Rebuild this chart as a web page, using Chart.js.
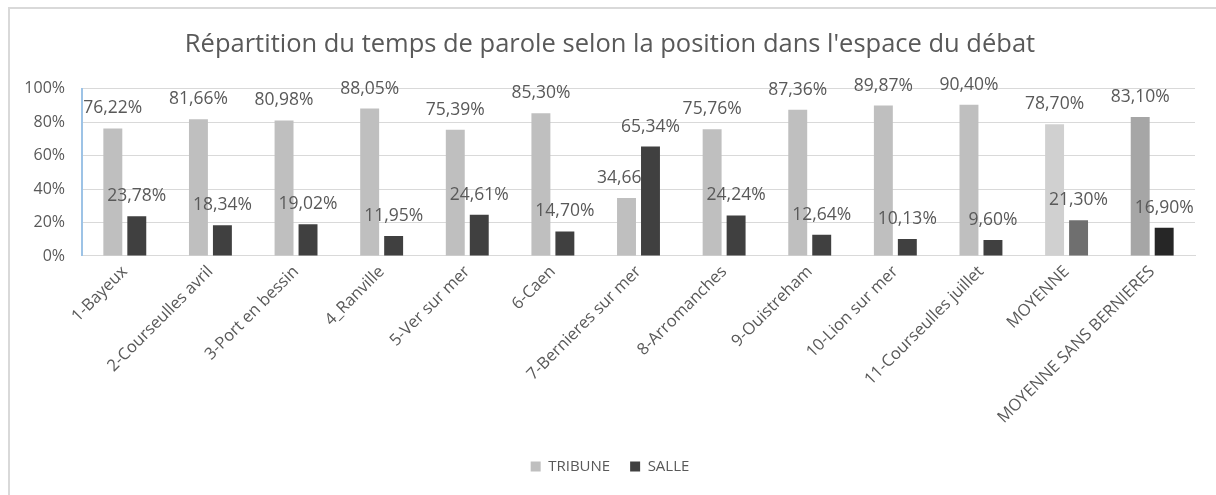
<!DOCTYPE html>
<html>
<head>
<meta charset="utf-8">
<script src="https://cdn.jsdelivr.net/npm/chart.js@4"></script>
<style>
  body { margin: 0; background: #fff; }
  #wrap { position: relative; width: 1216px; height: 495px; overflow: hidden; }
  #frame { position: absolute; left: 8px; top: 7px; width: 1230px; height: 510px; border: 2px solid #d9d9d9; }
  canvas { position: absolute; left: 0; top: 0; }
</style>
</head>
<body>
<div id="wrap">
  <div id="frame"></div>
  <canvas id="chart" width="1216" height="495"></canvas>
</div>
<script>
const categories = ['1-Bayeux', '2-Courseulles avril', '3-Port en bessin', '4_Ranville', '5-Ver sur mer', '6-Caen',
  '7-Bernieres sur mer', '8-Arromanches', '9-Ouistreham', '10-Lion sur mer', '11-Courseulles juillet',
  'MOYENNE', 'MOYENNE SANS BERNIERES'];
const tribune = [76.22, 81.66, 80.98, 88.05, 75.39, 85.30, 34.66, 75.76, 87.36, 89.87, 90.40, 78.70, 83.10];
const salle = [23.78, 18.34, 19.02, 11.95, 24.61, 14.70, 65.34, 24.24, 12.64, 10.13, 9.60, 21.30, 16.90];
const yTicks = [0, 20, 40, 60, 80, 100];

const tribuneColors = categories.map((c, i) => i === 11 ? '#d0d0d0' : i === 12 ? '#a6a6a6' : '#bfbfbf');
const salleColors = categories.map((c, i) => i === 11 ? '#6f6f6f' : i === 12 ? '#262626' : '#404040');

const textColor = '#595959';
const font = '"Open Sans", "DejaVu Sans", sans-serif';

function fmt(v) {
  return v.toFixed(2).replace('.', ',') + '%';
}

// value labels; TRIBUNE labels sit under the SALLE bars (the 34,66 one loses its %)
const valueLabels = {
  id: 'valueLabels',
  afterDatasetsDraw(chart) {
    const ctx = chart.ctx;
    const salleBars = chart.getDatasetMeta(1).data;
    ctx.save();
    ctx.font = '17.5px ' + font;
    ctx.fillStyle = textColor;
    ctx.textAlign = 'center';
    ctx.textBaseline = 'middle';

    ctx.save();
    ctx.beginPath();
    ctx.rect(0, 0, chart.width, chart.height);
    salleBars.forEach(b => {
      ctx.rect(b.x - b.width / 2, b.y, b.width, b.base - b.y);
    });
    ctx.clip('evenodd');
    chart.getDatasetMeta(0).data.forEach((bar, i) => {
      ctx.fillText(fmt(tribune[i]), bar.x, bar.y - 20);
    });
    ctx.restore();

    salleBars.forEach((bar, i) => {
      ctx.fillText(fmt(salle[i]), bar.x, bar.y - 20);
    });
    ctx.restore();
  }
};

new Chart(document.getElementById('chart'), {
  type: 'bar',
  data: {
    labels: categories,
    datasets: [
      { label: 'TRIBUNE', data: tribune, backgroundColor: tribuneColors, categoryPercentage: 0.56, barPercentage: 0.79 },
      { label: 'SALLE', data: salle, backgroundColor: salleColors, categoryPercentage: 0.56, barPercentage: 0.79 }
    ]
  },
  options: {
    responsive: false,
    animation: false,
    layout: { padding: { left: 25, right: 21, top: 0, bottom: 11 } },
    plugins: {
      title: {
        display: true,
        text: "Répartition du temps de parole selon la position dans l'espace du débat",
        color: textColor,
        font: { family: font, size: 25.5, weight: 'normal' },
        padding: { top: 29, bottom: 29 }
      },
      legend: {
        position: 'bottom',
        labels: {
          color: textColor,
          font: { family: font, size: 15 },
          boxWidth: 10,
          boxHeight: 10,
          padding: 20,
          generateLabels: () => [
            { text: 'TRIBUNE', fillStyle: '#bfbfbf', strokeStyle: '#bfbfbf', lineWidth: 0, datasetIndex: 0, fontColor: textColor },
            { text: 'SALLE', fillStyle: '#404040', strokeStyle: '#404040', lineWidth: 0, datasetIndex: 1, fontColor: textColor }
          ]
        }
      },
      tooltip: { enabled: false }
    },
    scales: {
      x: {
        grid: { display: false, drawTicks: false },
        border: { color: '#d9d9d9', width: 1 },
        ticks: {
          color: textColor,
          font: { family: font, size: 16.5 },
          minRotation: 45,
          maxRotation: 45,
          autoSkip: false,
          padding: 6
        },
        afterFit: (scale) => { scale.height = 183; }
      },
      y: {
        min: 0,
        max: 100,
        grid: { color: '#d9d9d9', drawTicks: false },
        border: { color: '#9dc3e6', width: 2 },
        ticks: {
          stepSize: 20,
          color: textColor,
          font: { family: font, size: 16 },
          padding: 17,
          callback: (v) => yTicks.includes(v) ? v + '%' : ''
        },
        afterFit: (scale) => { scale.width = 57; }
      }
    }
  },
  plugins: [valueLabels]
});
</script>
</body>
</html>
